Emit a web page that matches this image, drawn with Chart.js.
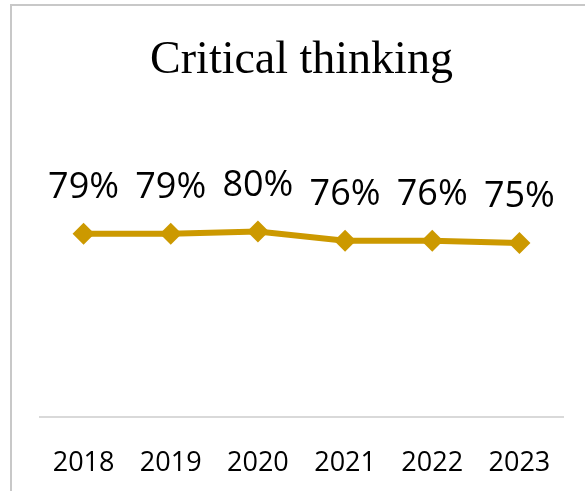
<!DOCTYPE html>
<html>
<head>
<meta charset="utf-8">
<script src="https://cdn.jsdelivr.net/npm/chart.js@4.4.0/dist/chart.umd.min.js"></script>
<style>
  html, body { margin: 0; padding: 0; background: #fff; overflow: hidden; }
  #frame {
    position: absolute; left: 10px; top: 4px; width: 700px; height: 700px;
    border-top: 2px solid #c8c8c8; border-left: 2px solid #c8c8c8;
  }
  #wrap { position: absolute; left: 0; top: 0; width: 585px; height: 491px; }
</style>
</head>
<body>
<div id="frame"></div>
<div id="wrap"><canvas id="chart"></canvas></div>
<script>
const years = ['2018', '2019', '2020', '2021', '2022', '2023'];
const criticalThinking = [0.79, 0.79, 0.80, 0.76, 0.76, 0.75];
const gold = '#CC9900';

// draws the percentage above each point
const pointLabels = {
  id: 'pointLabels',
  afterDatasetsDraw(chart) {
    const ctx = chart.ctx;
    const meta = chart.getDatasetMeta(0);
    ctx.save();
    ctx.font = '36px "Open Sans"';
    ctx.fillStyle = '#000';
    ctx.textAlign = 'center';
    ctx.textBaseline = 'middle';
    meta.data.forEach((pt, i) => {
      ctx.fillText(Math.round(criticalThinking[i] * 100) + '%', pt.x, pt.y - 46);
    });
    ctx.restore();
  }
};

new Chart(document.getElementById('chart'), {
  type: 'line',
  data: {
    labels: years,
    datasets: [{
      data: criticalThinking,
      borderColor: gold,
      backgroundColor: gold,
      borderWidth: 6,
      pointStyle: 'rectRot',
      pointRadius: 11,
      pointHoverRadius: 11,
      pointBorderWidth: 0,
      tension: 0
    }]
  },
  options: {
    responsive: true,
    maintainAspectRatio: false,
    animation: false,
    layout: { padding: { left: 40, right: 22, top: 0, bottom: -20 } },
    plugins: {
      legend: { display: false },
      tooltip: { enabled: false },
      title: {
        display: true,
        text: 'Critical thinking',
        color: '#000',
        font: { family: '"Liberation Serif"', size: 46, weight: 'normal' },
        padding: { top: 33, bottom: 97 }
      }
    },
    scales: {
      x: {
        offset: true,
        grid: { display: false, drawTicks: false },
        border: { display: true, color: '#d9d9d9', width: 2 },
        ticks: { color: '#000', padding: 31, font: { family: '"Open Sans"', size: 27 } }
      },
      y: {
        display: false,
        min: 0,
        max: 1
      }
    }
  },
  plugins: [pointLabels]
});
</script>
</body>
</html>
